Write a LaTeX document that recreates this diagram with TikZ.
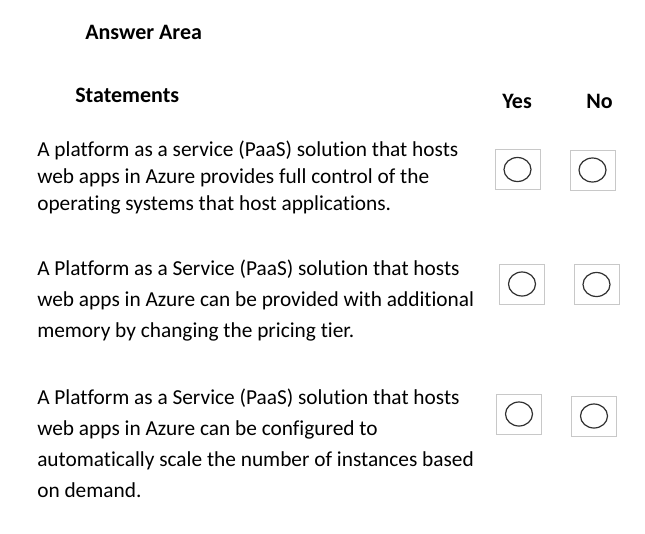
\documentclass[tikz,border=0pt]{standalone}
\usepackage{fontspec}
\setmainfont{Carlito}[Ligatures=NoCommon]
\usepackage{xcolor}
\usepackage{tikz}
\usetikzlibrary{shapes}
\usetikzlibrary{positioning}
\definecolor{boxgray}{HTML}{C8C8C8}
\definecolor{ringgray}{HTML}{303030}
\tikzset{
  head/.style={anchor=base west,inner sep=0pt,font=\fontsize{16.5}{20}\selectfont\bfseries},
  stmt/.style={anchor=base west,inner sep=0pt,align=left,font=\fontsize{16}{#1}\selectfont},
  ansbox/.style={draw=boxgray,line width=0.6pt,minimum width=33.75pt,minimum height=30pt,inner sep=0pt},
  radio/.style={ellipse,draw=ringgray,line width=0.9pt,minimum width=20.25pt,minimum height=18pt,inner sep=0pt}
}
\begin{document}
\begin{tikzpicture}[x=0.75pt,y=-0.75pt]
\useasboundingbox[fill=white] (0,0) rectangle (645,533);
\node[head] (area) at (85,39) {Answer Area}; \node[head] (stmts) at (75,102) {Statements};
\node[head] (yes) at (502,108) {Yes}; \node[head] (no) at (586,108) {No};
% base anchor sits on the last line
\node[stmt=20.25] (s1) at (37,210) {A platform as a service (PaaS) solution that hosts\\web apps in Azure provides full control of the\\operating systems that host applications.};
\node[stmt=23.25] (s2) at (37,337) {A Platform as a Service (PaaS) solution that hosts\\web apps in Azure can be provided with additional\\memory by changing the pricing tier.};
\node[stmt=23.25] (s3) at (37,497) {A Platform as a Service (PaaS) solution that hosts\\web apps in Azure can be configured to\\automatically scale the number of instances based\\on demand.};
\node[ansbox] (y1) at (517.5,169.5) {}; \node[ansbox] (n1) at (592.5,170) {};
\node[ansbox] (y2) at (522,284) {}; \node[ansbox] (n2) at (596.5,284.5) {};
\node[ansbox] (y3) at (519,414) {}; \node[ansbox] (n3) at (594,416) {};
\node[radio] (y1r) at (y1) {}; \node[radio] (n1r) at (n1) {};
\node[radio] (y2r) at (y2) {}; \node[radio] (n2r) at (n2) {};
\node[radio] (y3r) at (y3) {}; \node[radio] (n3r) at (n3) {};
\end{tikzpicture}
\end{document}
